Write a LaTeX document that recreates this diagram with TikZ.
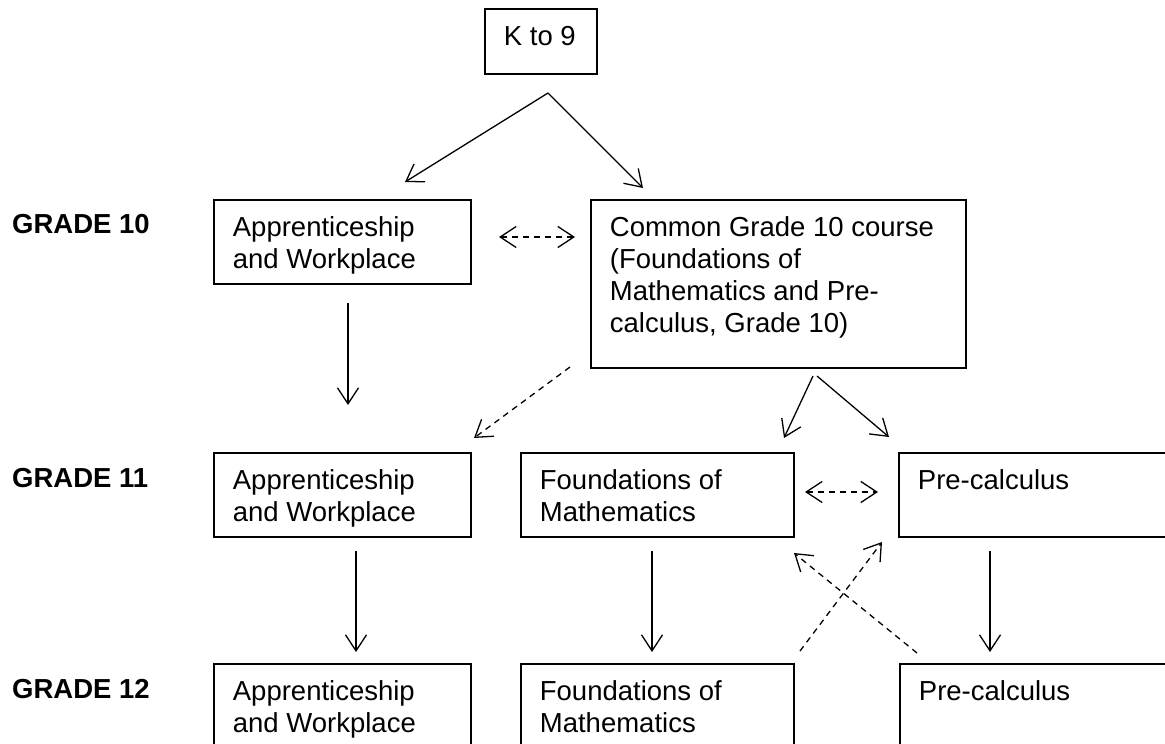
\documentclass[tikz,border=0pt]{standalone}
\usepackage{fontspec}
\setmainfont{Liberation Sans}
\usetikzlibrary{arrows.meta}

\newcommand{\crsfont}{\fontsize{27.5pt}{32pt}\selectfont}
% text block of a course box: width, height, lines
\newcommand{\crstext}[3]{\parbox[b][#2][t]{#1}{\rule{0pt}{37pt}#3}}

\begin{document}
\begin{tikzpicture}[x=1pt, y=-1pt,
  course/.style={draw, line width=1.8pt, anchor=north west, inner xsep=19pt, inner ysep=0pt, font=\crsfont},
  grade/.style={anchor=base west, inner sep=0pt, font=\crsfont\bfseries},
  pathway/.style={-{Straight Barb[length=16pt, width=21pt]}, line width=1.3pt},
  transfer/.style={pathway, dash pattern=on 6pt off 5pt},
  twoway/.style={transfer, {Straight Barb[length=16pt, width=21pt]}-{Straight Barb[length=16pt, width=21pt]}}]

\useasboundingbox (0,0) rectangle (1165,744);
\clip (0,0) rectangle (1165,744);

% Grade labels
\node[grade] (g10) at (12,233) {GRADE 10};
\node[grade] (g11) at (12,487) {GRADE 11};
\node[grade] (g12) at (12,698) {GRADE 12};

% Courses
\node[course] (k9) at (484,8) {\crstext{74pt}{65pt}{K to 9}};

\node[course] (aw10) at (213,199) {\crstext{219pt}{84pt}{Apprenticeship\\and Workplace}};
\node[course] (cm10) at (590,199) {\crstext{337pt}{168pt}{Common Grade 10 course\\(Foundations of\\Mathematics and Pre-\\calculus, Grade 10)}};

\node[course] (aw11) at (213,452) {\crstext{219pt}{84pt}{Apprenticeship\\and Workplace}};
\node[course] (fm11) at (520,452) {\crstext{235pt}{84pt}{Foundations of\\Mathematics}};
\node[course] (pc11) at (898,452) {\crstext{250pt}{84pt}{Pre-calculus}};

\node[course] (aw12) at (213,663) {\crstext{219pt}{84pt}{Apprenticeship\\and Workplace}};
\node[course] (fm12) at (520,663) {\crstext{235pt}{84pt}{Foundations of\\Mathematics}};
\node[course] (pc12) at (899,663) {\crstext{250pt}{84pt}{Pre-calculus}};

% Arrow ends
\coordinate (k9s) at (548,93);
\coordinate (aw10n) at (405,182);
\coordinate (cm10n) at (643,188);
\coordinate (aw10e) at (499,237);
\coordinate (cm10w) at (575,237);
\coordinate (aw10s) at (348,303);
\coordinate (aw11n) at (348,405);
\coordinate (cm10sw) at (570,367);
\coordinate (aw11ne) at (474,438);
\coordinate (cm10sa) at (813,376);
\coordinate (cm10sb) at (817,376);
\coordinate (fm11n) at (784,438);
\coordinate (pc11n) at (889,437);
\coordinate (fm11e) at (805,492);
\coordinate (pc11w) at (878,492);
\coordinate (aw11s) at (356,551);
\coordinate (aw12n) at (356,652);
\coordinate (fm11s) at (652,551);
\coordinate (fm12n) at (652,652);
\coordinate (pc11s) at (990,551);
\coordinate (pc12n) at (990,652);
\coordinate (fm12ne) at (800,651);
\coordinate (pc11sw) at (882,542);
\coordinate (pc12nw) at (917,653);
\coordinate (fm11se) at (794,553);

% Pathways
\draw[pathway] (k9s) -- (aw10n);
\draw[pathway] (k9s) -- (cm10n);
\draw[twoway] (aw10e) -- (cm10w);
\draw[pathway] (aw10s) -- (aw11n);
\draw[transfer] (cm10sw) -- (aw11ne);
\draw[pathway] (cm10sa) -- (fm11n);
\draw[pathway] (cm10sb) -- (pc11n);
\draw[twoway] (fm11e) -- (pc11w);
\draw[pathway] (aw11s) -- (aw12n);
\draw[pathway] (fm11s) -- (fm12n);
\draw[pathway] (pc11s) -- (pc12n);

% Crossing transfers
\draw[transfer] (fm12ne) -- (pc11sw);
\draw[transfer] (pc12nw) -- (fm11se);

\end{tikzpicture}
\end{document}
